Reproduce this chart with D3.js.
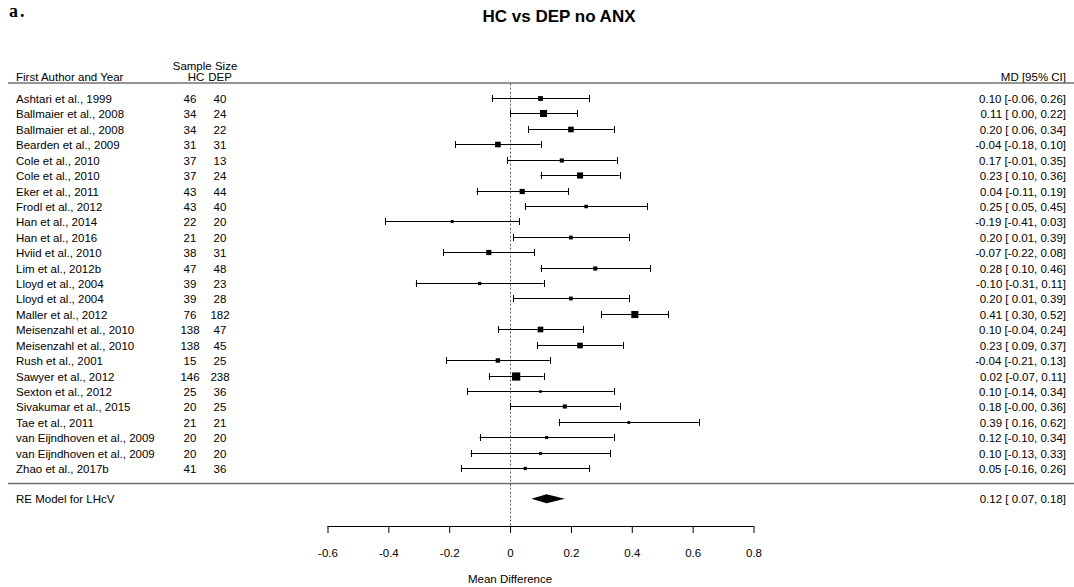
<!DOCTYPE html>
<html><head><meta charset="utf-8">
<script src="https://cdn.jsdelivr.net/npm/d3@7"></script>
<style>body{margin:0;background:#fff;} svg{display:block;font-family:"Liberation Sans",Arial,sans-serif;}</style>
</head><body>
<svg id="c" width="1074" height="587"></svg>
<script>
const studies = ["Ashtari et al., 1999","Ballmaier et al., 2008","Ballmaier et al., 2008","Bearden et al., 2009","Cole et al., 2010","Cole et al., 2010","Eker et al., 2011","Frodl et al., 2012","Han et al., 2014","Han et al., 2016","Hviid et al., 2010","Lim et al., 2012b","Lloyd et al., 2004","Lloyd et al., 2004","Maller et al., 2012","Meisenzahl et al., 2010","Meisenzahl et al., 2010","Rush et al., 2001","Sawyer et al., 2012","Sexton et al., 2012","Sivakumar et al., 2015","Tae et al., 2011","van Eijndhoven et al., 2009","van Eijndhoven et al., 2009","Zhao et al., 2017b"];
const nHC  = [46,34,34,31,37,37,43,43,22,21,38,47,39,39,76,138,138,15,146,25,20,21,20,20,41];
const nDEP = [40,24,22,31,13,24,44,40,20,20,31,48,23,28,182,47,45,25,238,36,25,21,20,20,36];
const md   = [0.10,0.11,0.20,-0.04,0.17,0.23,0.04,0.25,-0.19,0.20,-0.07,0.28,-0.10,0.20,0.41,0.10,0.23,-0.04,0.02,0.10,0.18,0.39,0.12,0.10,0.05];
const lo   = [-0.06,0.00,0.06,-0.18,-0.01,0.10,-0.11,0.05,-0.41,0.01,-0.22,0.10,-0.31,0.01,0.30,-0.04,0.09,-0.21,-0.07,-0.14,-0.00,0.16,-0.10,-0.13,-0.16];
const hi   = [0.26,0.22,0.34,0.10,0.35,0.36,0.19,0.45,0.03,0.39,0.08,0.46,0.11,0.39,0.52,0.24,0.37,0.13,0.11,0.34,0.36,0.62,0.34,0.33,0.26];
const pooled = {label:"RE Model for LHcV", est:0.12, lo:0.07, hi:0.18};
const xTicks = [-0.6,-0.4,-0.2,0,0.2,0.4,0.6,0.8];
const tau2 = 0.005;

const svg = d3.select("#c");
const x = d3.scaleLinear().domain([-0.6,0.8]).range([327.5,753.5]);
const y = d3.scaleLinear().domain([0,24]).range([98,468]);
const neg = v => v<0 || Object.is(v,-0);
const fmt = v => (neg(v)?"-":" ") + Math.abs(v).toFixed(2);
const fmtE = v => (neg(v)?"-":"") + Math.abs(v).toFixed(2);
const ciText = (e,l,h) => `${fmtE(e)} [${fmt(l)}, ${fmt(h)}]`;

// weights -> square size
const w = lo.map((l,i)=>{const se=(hi[i]-l)/3.92; return 1/(se*se+tau2);});
const sz = d3.scaleLinear().domain(d3.extent(w)).range([2.6,8.2]);

// titles
svg.append("text").attr("x",9).attr("y",17).attr("font-family","'Liberation Serif',serif").attr("font-weight","bold").attr("font-size",18).attr("letter-spacing",2).text("a.");
svg.append("text").attr("x",559).attr("y",22).attr("text-anchor","middle").attr("font-weight","bold").attr("font-size",17).text("HC vs DEP no ANX");

const fs = 11.5;
const headY = y(-1);
svg.append("text").attr("x",16).attr("y",headY-2).attr("font-size",fs).text("First Author and Year");
svg.append("text").attr("x",205).attr("y",headY-13).attr("text-anchor","middle").attr("font-size",fs).text("Sample Size");
svg.append("text").attr("x",196).attr("y",headY-2).attr("text-anchor","middle").attr("font-size",fs).text("HC");
svg.append("text").attr("x",220).attr("y",headY-2).attr("text-anchor","middle").attr("font-size",fs).text("DEP");
svg.append("text").attr("x",1066).attr("y",headY-2).attr("text-anchor","end").attr("font-size",fs).text("MD [95% CI]");

// header and separator lines
svg.append("line").attr("x1",8).attr("x2",1074).attr("y1",headY+0.5).attr("y2",headY+0.5).attr("stroke","#707070").attr("stroke-width",1.5);
svg.append("line").attr("x1",8).attr("x2",1074).attr("y1",y(25)).attr("y2",y(25)).attr("stroke","#707070").attr("stroke-width",1.5);

// reference line
svg.append("line").attr("x1",Math.round(x(0))+0.5).attr("x2",Math.round(x(0))+0.5).attr("y1",headY+1).attr("y2",526)
  .attr("stroke","#555").attr("stroke-dasharray","2,2").attr("stroke-width",1);

// rows
const g = svg.append("g");
studies.forEach((s,i)=>{
  const yy = Math.round(y(i))+0.5;
  g.append("text").attr("x",16).attr("y",yy+4).attr("font-size",fs).text(s);
  g.append("text").attr("x",190).attr("y",yy+4).attr("text-anchor","middle").attr("font-size",fs).text(nHC[i]);
  g.append("text").attr("x",220).attr("y",yy+4).attr("text-anchor","middle").attr("font-size",fs).text(nDEP[i]);
  g.append("text").attr("x",1066).attr("y",yy+4).attr("text-anchor","end").attr("font-size",fs).text(ciText(md[i],lo[i],hi[i]));
  g.append("line").attr("x1",x(lo[i])).attr("x2",x(hi[i])).attr("y1",yy).attr("y2",yy).attr("stroke","#000").attr("stroke-width",1);
  [lo[i],hi[i]].forEach(v=>g.append("line").attr("x1",Math.round(x(v))+0.5).attr("x2",Math.round(x(v))+0.5).attr("y1",yy-3.5).attr("y2",yy+3.5).attr("stroke","#000"));
  const s2 = sz(w[i]);
  g.append("rect").attr("x",x(md[i])-s2/2).attr("y",yy-s2/2).attr("width",s2).attr("height",s2).attr("fill","#000");
});

// pooled
const py = y(26);
svg.append("text").attr("x",16).attr("y",py+4).attr("font-size",fs).text(pooled.label);
svg.append("text").attr("x",1066).attr("y",py+4).attr("text-anchor","end").attr("font-size",fs).text(ciText(pooled.est,pooled.lo,pooled.hi));
svg.append("path").attr("d",`M${x(pooled.lo)},${py} L${x(pooled.est)},${py-4.5} L${x(pooled.hi)},${py} L${x(pooled.est)},${py+4.5} Z`).attr("fill","#000");

// axis
const axisY = 526;
const ax = d3.axisBottom(x).tickValues(xTicks).tickSize(7).tickPadding(16).tickFormat(d=>d===0?"0":(d<0?"-":"")+Math.abs(d).toFixed(1));
const axG = svg.append("g").attr("transform",`translate(0,${axisY})`).call(ax);
axG.select(".domain").attr("d",`M${x(-0.6)},0.5H${x(0.8)}`).attr("stroke","#000");
axG.selectAll(".tick line").attr("stroke","#000");
axG.selectAll("text").attr("font-size",fs).attr("font-family","'Liberation Sans',Arial,sans-serif").attr("fill","#000");
svg.append("text").attr("x",x(0)).attr("y",583).attr("text-anchor","middle").attr("font-size",fs).text("Mean Difference");
</script>
</body></html>
